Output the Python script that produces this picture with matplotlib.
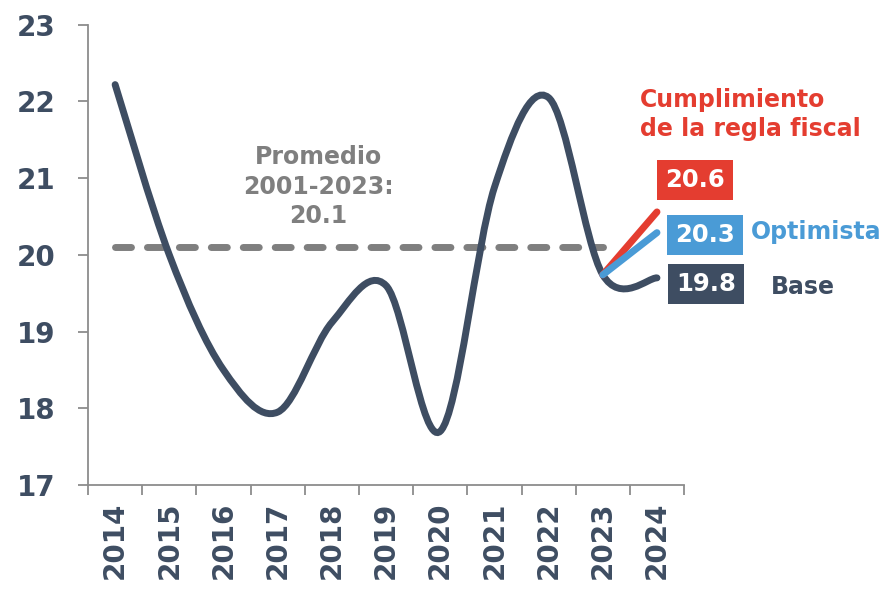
import numpy as np
import matplotlib.pyplot as plt
from matplotlib.path import Path
from matplotlib.patches import PathPatch

years = ['2014', '2015', '2016', '2017', '2018', '2019', '2020', '2021', '2022', '2023', '2024']
base = [22.22, 20.0, 18.5, 17.95, 19.12, 19.6, 17.7, 20.88, 22.05, 19.74, 19.7]
optimista = [19.74, 20.29]
regla = [19.74, 20.56]
promedio = 20.1
labels_2024 = ['20.6', '20.3', '19.8']

DARK = '#3e4d62'
RED = '#e43d30'
BLUE = '#4a9bd6'
GREY = '#7f7f7f'


def smooth_path(xs, ys, t=1/6):
    # bezier path like excel's "smoothed line"
    pts = np.column_stack([xs, ys]).astype(float)
    verts = [pts[0]]
    codes = [Path.MOVETO]
    n = len(pts)
    for i in range(n - 1):
        p0 = pts[i - 1] if i > 0 else pts[i]
        p1 = pts[i]
        p2 = pts[i + 1]
        p3 = pts[i + 2] if i + 2 < n else pts[i + 1]
        c1 = p1 + (p2 - p0) * t
        c2 = p2 - (p3 - p1) * t
        verts += [c1, c2, p2]
        codes += [Path.CURVE4] * 3
    return Path(verts, codes)


plt.rcParams['font.family'] = 'DejaVu Sans'
plt.rcParams['font.weight'] = 'bold'

fig = plt.figure(figsize=(8.83, 5.90), dpi=100)
ax = fig.add_axes([0.0997, 0.178, 0.675, 0.780])

x = np.arange(len(years))

ax.plot([0, 9], [promedio, promedio], color=GREY, lw=5, ls=(0, (2.3, 2.3)),
        solid_capstyle='round', dash_capstyle='round', zorder=2)

ax.add_patch(PathPatch(smooth_path(x, base), fc='none', ec=DARK, lw=5,
                       capstyle='round', zorder=3))
ax.plot([9, 10], regla, color=RED, lw=5, solid_capstyle='round', zorder=4)
ax.plot([9, 10], optimista, color=BLUE, lw=5, solid_capstyle='round', zorder=4)

ax.set_xlim(-0.5, 10.5)
ax.set_ylim(17, 23)
ax.set_yticks(range(17, 24))
ax.set_xticks(np.arange(-0.5, 11, 1))
ax.set_xticklabels([])
ax.set_xticks(x, minor=True)
ax.set_xticklabels(years, minor=True, rotation=90)

for s in ['top', 'right']:
    ax.spines[s].set_visible(False)
for s in ['left', 'bottom']:
    ax.spines[s].set_color('#8c8c8c')
    ax.spines[s].set_linewidth(1.3)
ax.tick_params(axis='both', which='major', direction='out', length=7.5, width=1.3,
               color='#8c8c8c', labelsize=20, labelcolor=DARK)
ax.tick_params(axis='y', which='major', pad=16)
ax.tick_params(axis='x', which='minor', length=0, labelsize=20, labelcolor=DARK, pad=12)

ax.text(3.75, 20.89, 'Promedio\n2001-2023:\n20.1', color=GREY, fontsize=17,
        ha='center', va='center', linespacing=1.3)

box_y = [20.98, 20.26, 19.62]
box_x = [10.7, 10.88, 10.9]
colors = [RED, BLUE, DARK]
for lab, bx, by, c in zip(labels_2024, box_x, box_y, colors):
    ax.text(bx, by, lab, color='white', fontsize=17.5, ha='center', va='center',
            bbox=dict(boxstyle='square,pad=0.33', fc=c, ec='none'), clip_on=False)

ax.text(12.93, 20.3, 'Optimista', color=BLUE, fontsize=17, ha='center', va='center', clip_on=False)
ax.text(12.69, 19.58, 'Base', color=DARK, fontsize=17, ha='center', va='center', clip_on=False)
ax.text(9.68, 21.83, 'Cumplimiento\nde la regla fiscal', color=RED, fontsize=17,
        ha='left', va='center', linespacing=1.3, clip_on=False)

fig.savefig('out.png', dpi=100)
